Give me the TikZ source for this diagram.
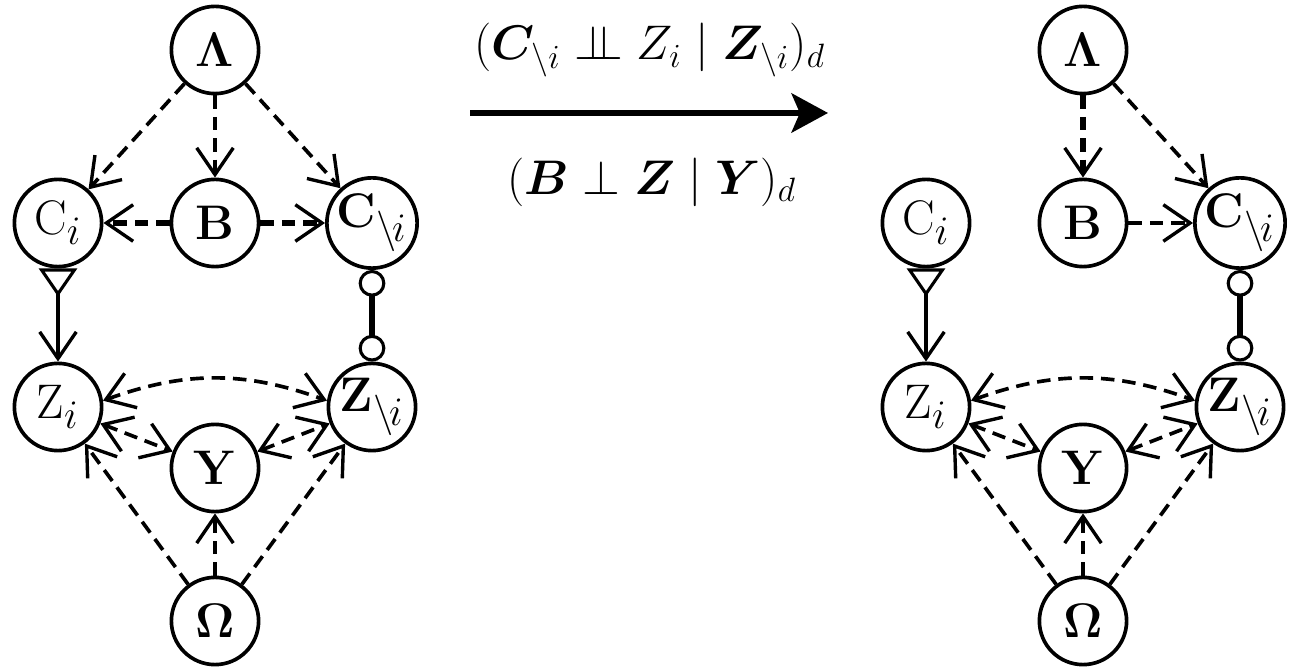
\documentclass[tikz,border=0pt]{standalone}
\usepackage{amsmath,amssymb,bm}
\usetikzlibrary{arrows.meta}
\newcommand{\indep}{\mathrel{\perp\mkern-10mu\perp}}
\newcommand{\nsub}{\setminus\mkern-2mu i}
\tikzset{
  var/.style={circle, draw, line width=1.3pt, minimum size=1.09cm, inner sep=0pt,
    font=\fontsize{19}{23}\selectfont},
  barb/.tip={Straight Barb[length=9.5pt,width=13pt,line width=1.2pt]},
  dedge/.style={line width=1.3pt, dash pattern=on 4.8pt off 2.8pt, -{barb}},
  tdedge/.style={line width=1.8pt, dash pattern=on 4.8pt off 2.8pt, -{barb}},
  bedge/.style={line width=1.3pt, dash pattern=on 4.8pt off 2.8pt, {barb}-{barb}},
  tri/.style={line width=1.2pt, {Triangle[open,reversed,length=10pt,width=13.5pt,line width=1.1pt]}-{barb}},
  circedge/.style={line width=1.8pt, {Circle[open,length=9.5pt,line width=1.1pt]}-{Circle[open,length=9.5pt,line width=1.1pt]}},
  lbl/.style={font=\fontsize{17.5}{20}\selectfont, inner sep=0pt}
}
\begin{document}
\begin{tikzpicture}[x=0.0125cm,y=0.0125cm]
\useasboundingbox (0,0) rectangle (1302,-667);
% left graph
\node[var] (L1) at (215,-50) {$\bm{\Lambda}$};
\node[var] (Ci1) at (58,-223) {$\mathrm{C}_i$};
\node[var] (B1) at (215,-223) {$\mathbf{B}$};
\node[var] (Cn1) at (372,-223) {$\mathbf{C}_{\nsub}$};
\node[var] (Zi1) at (58,-407) {$\mathrm{Z}_i$};
\node[var] (Zn1) at (372,-407) {$\mathbf{Z}_{\nsub}$};
\node[var] (Y1) at (215,-468) {$\mathbf{Y}$};
\node[var] (O1) at (215,-621) {$\bm{\Omega}$};
\draw[dedge] (L1) -- (Ci1);
\draw[dedge] (L1) -- (B1);
\draw[dedge] (L1) -- (Cn1);
\draw[tdedge] (B1) -- (Ci1);
\draw[tdedge] (B1) -- (Cn1);
\draw[tri] (Ci1) -- (Zi1);
\draw[circedge] (Cn1) -- (Zn1);
\draw[bedge] (Zi1.8) to[out=20,in=160] (Zn1.172);
\draw[bedge] (Zi1) -- (Y1);
\draw[bedge] (Y1) -- (Zn1);
\draw[dedge] (O1) -- (Zi1);
\draw[dedge] (O1) -- (Y1);
\draw[dedge] (O1) -- (Zn1);
% right graph
\node[var] (L2) at (1083,-50) {$\bm{\Lambda}$};
\node[var] (Ci2) at (926,-223) {$\mathrm{C}_i$};
\node[var] (B2) at (1083,-223) {$\mathbf{B}$};
\node[var] (Cn2) at (1240,-223) {$\mathbf{C}_{\nsub}$};
\node[var] (Zi2) at (926,-407) {$\mathrm{Z}_i$};
\node[var] (Zn2) at (1240,-407) {$\mathbf{Z}_{\nsub}$};
\node[var] (Y2) at (1083,-468) {$\mathbf{Y}$};
\node[var] (O2) at (1083,-621) {$\bm{\Omega}$};
\draw[tdedge] (L2) -- (B2);
\draw[dedge] (L2) -- (Cn2);
\draw[dedge] (B2) -- (Cn2);
\draw[tri] (Ci2) -- (Zi2);
\draw[circedge] (Cn2) -- (Zn2);
\draw[bedge] (Zi2.8) to[out=20,in=160] (Zn2.172);
\draw[bedge] (Zi2) -- (Y2);
\draw[bedge] (Y2) -- (Zn2);
\draw[dedge] (O2) -- (Zi2);
\draw[dedge] (O2) -- (Y2);
\draw[dedge] (O2) -- (Zn2);
% transformation arrow
\coordinate (as) at (470,-113);
\coordinate (ae) at (828,-113);
\draw[line width=1.8pt, -{Stealth[length=13pt,width=14pt,inset=3pt]}] (as) -- (ae);
\node[lbl] (t1) at (650,-50) {$(\bm{C}_{\setminus i} \indep Z_i \mid \bm{Z}_{\setminus i})_d$};
\node[lbl] (t2) at (652,-182) {$(\bm{B} \perp \bm{Z} \mid \bm{Y})_d$};
\end{tikzpicture}
\end{document}
